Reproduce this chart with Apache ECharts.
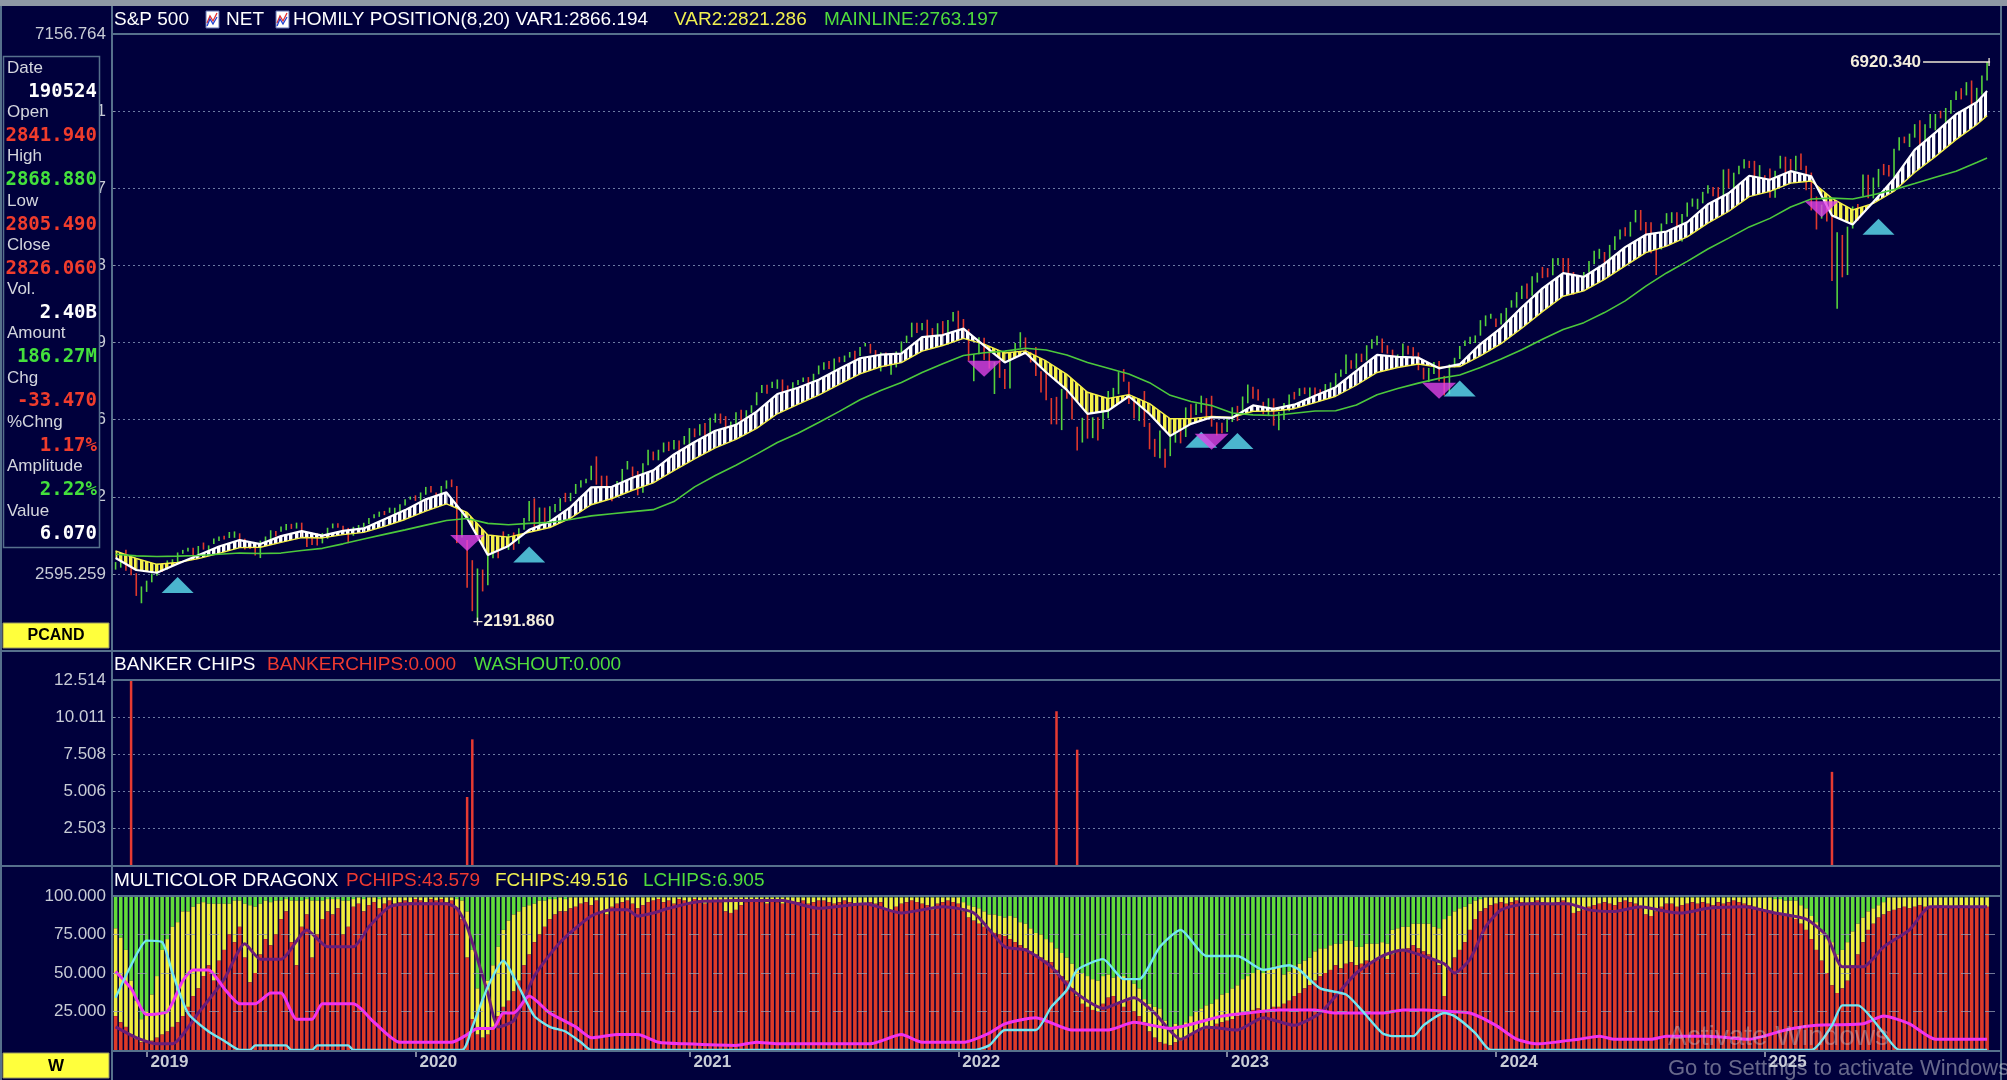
<!DOCTYPE html>
<html><head><meta charset="utf-8">
<script src="https://cdn.jsdelivr.net/npm/echarts@6/dist/echarts.min.js"></script>
<style>html,body{margin:0;padding:0;background:#00003c;overflow:hidden}#c{width:2007px;height:1080px}</style>
</head><body><div id="c"></div>
<script>
// ---------- DATA (weekly bars, index 0 = week of 2018-11-19) ----------
const closes=[2632,2760,2633,2600,2417,2486,2532,2596,2671,2665,
2707,2708,2776,2793,2804,2743,2822,2800,2834,2893,
2907,2905,2940,2946,2881,2860,2826,2752,2873,2887,
2950,2942,2990,3014,2977,3026,2932,2919,2889,2847,
2926,2979,3007,2992,2962,2952,2970,2986,3023,3067,
3093,3120,3110,3141,3146,3169,3221,3240,3235,3265,
3330,3295,3226,3328,3380,3338,2954,2972,2711,2305,
2541,2489,2790,2875,2837,2831,2930,2864,2955,3044,
3194,3041,3098,3009,3130,3185,3224,3216,3271,3351,
3373,3397,3508,3427,3341,3319,3298,3348,3477,3483,
3465,3270,3510,3585,3557,3638,3699,3663,3709,3703,
3756,3825,3768,3841,3714,3887,3934,3907,3811,3842,
3943,3913,3975,4020,4129,4185,4180,4181,4233,4174,
4156,4204,4230,4247,4166,4281,4352,4370,4327,4411,
4395,4437,4468,4442,4509,4535,4459,4433,4455,4357,
4391,4471,4545,4605,4697,4682,4698,4595,4538,4712,
4620,4725,4766,4677,4663,4398,4432,4500,4419,4349,
4385,4329,4204,4463,4543,4546,4488,4393,4272,4132,
4123,4024,3901,4158,4108,3901,3675,3912,3825,3899,
3863,3962,4130,4145,4280,4228,4058,3924,4067,3873,
3693,3586,3640,3583,3752,3901,3771,3993,3965,4026,
4072,3934,3852,3845,3840,3895,3999,3973,4071,4136,
4090,4079,3970,4046,3862,3917,3971,4109,4105,4138,
4133,4169,4136,4124,4192,4205,4282,4299,4410,4348,
4450,4399,4505,4536,4582,4478,4464,4370,4406,4515,
4457,4450,4320,4288,4309,4327,4224,4117,4358,4415,
4514,4559,4595,4604,4719,4755,4770,4697,4784,4840,
4891,4959,5027,5006,5089,5137,5124,5117,5234,5254,
5204,5123,4967,5100,5128,5223,5303,5305,5278,5347,
5432,5465,5460,5567,5615,5505,5459,5346,5344,5554,
5634,5648,5408,5626,5703,5738,5751,5815,5865,5808,
5728,5995,5870,5969,6032,6090,6051,5931,5971,5942,
5827,5997,6101,6041,6026,6115,6013,5955,5770,5639,
5668,5581,5074,5363,5283,5525,5687,5660,5958,5803,
5912,6000,5977,5968,6173,6279,6260,6297,6389,6238,
6389,6450,6467,6460,6482,6584,6664,6643,6716,6553,
6664,6792,6840];
const highs=[2695,2762,2800,2685,2601,2489,2538,2598,2681,2681,
2709,2718,2776,2798,2816,2816,2831,2860,2836,2894,
2911,2918,2949,2954,2938,2892,2868,2828,2876,2911,
2964,2958,2996,3017,3018,3028,3028,2945,2943,2939,
2940,2985,3021,3022,3002,2984,2993,3008,3027,3068,
3098,3121,3127,3155,3154,3183,3226,3248,3259,3283,
3330,3338,3283,3338,3385,3393,3338,3137,2882,2711,
2641,2632,2818,2880,2867,2954,2932,2945,2980,3068,
3212,3233,3156,3155,3166,3186,3234,3280,3280,3355,
3387,3399,3509,3588,3425,3425,3321,3380,3482,3549,
3502,3464,3529,3645,3629,3644,3705,3712,3726,3723,
3760,3827,3824,3860,3870,3915,3950,3950,3928,3882,
3960,3983,3978,4020,4130,4191,4194,4218,4238,4238,
4187,4214,4234,4255,4258,4286,4356,4384,4393,4416,
4429,4440,4470,4480,4513,4546,4539,4486,4466,4466,
4429,4475,4559,4608,4718,4718,4714,4743,4672,4713,
4731,4740,4808,4819,4749,4665,4453,4595,4590,4490,
4386,4402,4327,4465,4546,4637,4593,4471,4513,4308,
4308,4081,4091,4158,4204,4169,3838,3914,3950,3918,
3919,4013,4141,4167,4300,4325,4219,4062,4076,4140,
3871,3736,3807,3653,3762,3902,3911,4002,4029,4034,
4101,4080,4100,3876,3872,3906,4003,4015,4094,4195,
4176,4156,4049,4079,4078,3964,4040,4110,4133,4164,
4170,4171,4170,4155,4199,4213,4291,4322,4448,4400,
4458,4456,4527,4578,4607,4584,4527,4490,4449,4541,
4522,4511,4466,4338,4335,4385,4393,4268,4366,4421,
4521,4568,4598,4610,4739,4779,4793,4754,4798,4843,
4907,4976,5030,5048,5111,5140,5189,5179,5261,5264,
5264,5263,5146,5114,5146,5239,5325,5342,5315,5375,
5447,5505,5524,5570,5670,5670,5568,5566,5383,5556,
5643,5651,5651,5636,5733,5767,5765,5823,5878,5863,
5863,6012,6018,5985,6044,6099,6085,6085,6049,5964,
6021,6001,6128,6120,6101,6128,6147,6044,5986,5783,
5715,5787,5695,5481,5459,5529,5700,5720,5970,5968,
5944,6017,6059,6050,6187,6285,6290,6315,6395,6427,
6395,6481,6481,6508,6532,6600,6672,6699,6750,6764,
6702,6807,6920];
const lows=[2631,2648,2621,2583,2409,2347,2443,2524,2580,2612,
2631,2682,2681,2765,2784,2722,2741,2800,2788,2848,
2873,2886,2898,2900,2825,2801,2805,2750,2729,2859,
2883,2911,2952,2964,2975,2978,2914,2822,2840,2835,
2853,2891,2980,2985,2946,2855,2917,2952,2991,3016,
3066,3077,3092,3111,3070,3124,3173,3223,3212,3214,
3264,3283,3214,3234,3315,3328,2855,2902,2479,2280,
2192,2447,2500,2728,2727,2830,2798,2798,2850,2969,
3039,2984,2965,2999,3000,3115,3127,3201,3209,3271,
3325,3362,3387,3349,3329,3291,3209,3298,3343,3477,
3418,3259,3280,3512,3555,3555,3622,3633,3647,3636,
3688,3663,3750,3764,3694,3725,3873,3865,3789,3723,
3805,3885,3853,3955,4020,4124,4118,4165,4159,4057,
4062,4156,4191,4217,4165,4165,4281,4320,4327,4233,
4382,4385,4423,4367,4436,4517,4457,4428,4306,4346,
4278,4340,4460,4546,4595,4630,4654,4585,4495,4532,
4600,4531,4728,4662,4582,4396,4223,4451,4402,4330,
4115,4251,4157,4162,4424,4506,4450,4381,4268,4128,
4062,3859,3858,3810,4074,3900,3637,3705,3738,3742,
3722,3820,3911,4079,4113,4219,4030,3907,3886,3837,
3648,3584,3572,3492,3590,3704,3698,3752,3906,3938,
3956,3919,3839,3765,3784,3794,3878,3886,3950,4037,
4075,4061,3943,3928,3847,3808,3901,3970,4069,4099,
4114,4049,4048,4099,4109,4104,4166,4261,4284,4328,
4329,4385,4398,4497,4526,4463,4456,4366,4335,4414,
4448,4436,4316,4238,4216,4283,4223,4103,4113,4340,
4411,4521,4537,4546,4608,4688,4751,4682,4702,4714,
4845,4845,4918,4920,4946,5057,5094,5101,5118,5203,
5146,5114,4953,4969,5011,5142,5211,5257,5191,5234,
5331,5420,5447,5445,5565,5497,5390,5305,5120,5336,
5550,5560,5402,5404,5613,5698,5675,5726,5809,5786,
5705,5706,5853,5853,5972,6021,6024,5832,5929,5829,
5774,5773,6020,5923,5923,6003,6008,5837,5666,5505,
5597,5572,5069,4835,5101,5120,5513,5579,5786,5768,
5768,5861,5964,5952,5943,6172,6234,6202,6281,6212,
6254,6361,6343,6444,6360,6482,6600,6604,6638,6550,
6569,6644,6763];
// indicator lines read every 4 weeks
const ribbonWeeks=[0,4,8,12,16,20,24,28,32,36,40,44,48,52,56,60,64,68,72,76,80,84,88,92,96,100,104,108,112,116,120,124,128,132,136,140,144,148,152,156,160,164,168,172,176,180,184,188,192,196,200,204,208,212,216,220,224,228,232,236,240,244,248,252,256,260,264,268,272,276,280,284,288,292,296,300,304,308,312,316,320,324,328,332,336,340,344,348,352,356,360,362];
const var1=[2730,2628,2605,2680,2752,2826,2881,2847,2914,2956,
2918,2959,2979,3057,3134,3225,3284,3065,2755,2831,
2968,3036,3159,3326,3331,3408,3470,3604,3710,3805,
3854,3966,4115,4168,4236,4328,4417,4447,4456,4596,
4613,4667,4524,4382,4464,4299,4150,3947,3975,4096,
3946,3761,3863,3918,3914,4019,3989,4025,4100,4173,
4310,4445,4429,4422,4332,4367,4537,4674,4848,5007,
5136,5105,5216,5356,5461,5488,5566,5718,5811,5959,
5925,5998,5955,5624,5547,5738,5934,6178,6323,6479,
6581,6675];
const var2=[2790,2725,2676,2691,2724,2769,2817,2820,2861,2902,
2899,2927,2946,2997,3055,3126,3186,3114,2924,2906,
2947,2987,3066,3179,3232,3302,3364,3468,3566,3660,
3732,3825,3948,4028,4106,4196,4285,4345,4380,4477,
4525,4585,4537,4462,4479,4394,4281,4130,4077,4110,
4034,3906,3907,3926,3917,3969,3972,3991,4042,4096,
4189,4297,4339,4369,4340,4347,4438,4541,4671,4811,
4941,4986,5083,5198,5309,5365,5443,5559,5657,5783,
5827,5897,5915,5768,5670,5726,5828,5987,6121,6264,
6390,6467];
const mainline=[2761,2747,2742,2745,2751,2761,2771,2768,2771,2793,
2811,2849,2890,2929,2967,3007,3046,3063,3022,3010,
3022,3030,3054,3085,3103,3121,3138,3206,3330,3427,
3513,3607,3705,3783,3874,3968,4066,4145,4213,4296,
4370,4440,4464,4477,4501,4487,4445,4381,4333,4284,
4211,4104,4052,4017,3955,3939,3933,3953,3971,3973,
4022,4109,4161,4207,4247,4275,4338,4410,4489,4578,
4660,4718,4803,4902,5027,5138,5236,5340,5432,5527,
5599,5695,5763,5770,5763,5799,5842,5894,5947,5998,
6071,6109];
const buySignals=[[12,2502],[80,2758],[210,3728],[217,3719],[260,4161],[341,5528]];
const sellSignals=[[68,2857],[168,4328],[212,3711],[256,4142],[330,5676]];
const extremes=[[362,6920.34],[70,2191.86]];
const bankerChips=[[3,12.45],[68,4.6],[69,8.5],[182,10.4],[186,7.8],[332,6.3]];
const pchips=[22,18,15,10,7,5,5,6,8,10,
12,15,18,22,28,35,40,48,55,45,
58,65,75,70,80,60,44,50,62,72,
68,75,85,90,70,55,80,88,60,75,
85,90,88,92,75,80,93,95,90,94,
96,92,95,97,95,96,97,96,98,97,
96,98,97,98,96,97,92,85,60,20,
10,8,10,15,22,28,32,38,45,55,
62,70,75,80,85,88,90,90,92,93,
95,96,94,97,90,88,93,95,96,97,
95,92,94,96,97,98,96,97,95,98,
97,96,98,97,95,96,97,96,90,89,
91,94,96,97,97,96,95,97,96,95,
97,96,96,97,95,96,97,97,96,95,
96,97,96,95,94,95,96,95,96,91,
90,93,95,96,97,96,95,94,91,95,
96,97,96,95,90,86,84,82,80,78,
76,75,74,72,70,68,66,64,62,60,
58,57,52,48,45,40,35,30,28,26,
25,30,34,35,30,28,32,25,22,18,
12,8,5,4,3,5,6,8,10,12,
13,14,15,17,18,19,20,22,24,25,
26,27,25,26,28,28,30,32,35,37,
40,42,45,48,50,52,55,53,56,57,
55,56,58,57,58,60,59,62,65,64,
66,68,66,64,62,58,55,35,52,60,
65,70,78,85,90,92,94,95,96,95,
96,97,96,95,96,97,96,95,94,96,
97,95,89,90,91,93,94,95,96,95,
94,96,97,96,95,92,88,87,90,93,
95,95,93,94,95,96,95,96,95,94,
96,95,96,97,96,95,94,93,92,91,
90,89,88,87,86,85,82,78,72,65,
58,50,42,37,40,45,55,62,70,78,
82,86,88,90,91,92,93,92,93,94,
93,92,93,94,93,92,93,94,93,92,
93,92,93];
const fchips=[57,55,50,35,25,15,20,30,40,55,
60,65,65,68,62,58,55,48,40,50,
37,30,20,27,17,35,50,43,33,25,
28,22,12,8,27,42,17,10,37,22,
12,8,10,6,22,17,5,4,8,5,
3,6,4,2,4,3,2,3,1,2,
3,1,2,1,3,2,6,12,30,45,
30,25,35,40,45,50,52,50,45,38,
32,25,22,17,13,10,9,8,7,6,
4,3,5,2,9,11,6,4,3,2,
4,7,5,3,2,1,3,2,4,1,
2,3,1,2,4,3,2,3,9,10,
8,5,3,2,2,3,4,2,3,4,
2,3,3,2,4,3,2,2,3,4,
3,2,3,4,5,4,3,4,3,8,
9,6,4,3,2,3,4,5,8,4,
3,2,3,4,6,8,9,10,10,10,
12,12,12,15,16,15,16,15,14,15,
14,13,14,15,15,16,18,20,20,20,
20,18,15,12,18,20,15,18,18,15,
18,20,22,15,10,12,10,10,12,13,
14,15,15,16,18,18,20,20,22,23,
24,25,25,26,26,27,19,19,20,19,
18,18,19,18,16,16,14,16,15,14,
12,11,11,12,11,10,10,16,14,16,
14,14,16,18,20,22,24,50,35,30,
27,23,17,12,8,7,5,4,3,4,
3,2,3,4,3,2,3,4,5,3,
2,4,10,9,8,6,5,4,3,4,
5,3,2,3,4,7,11,12,9,6,
4,4,6,5,4,3,4,3,4,5,
3,4,3,2,3,4,5,6,7,8,
9,9,10,10,11,12,12,14,15,18,
20,22,28,25,25,25,22,20,16,12,
10,8,8,9,8,7,6,7,6,5,
6,7,6,5,6,7,6,5,6,7,
6,7,6];
const cyanLine=[[0,34],[3,55],[6,71],[9,70],[11,50],[14,24],[18,12],[21,6],[24,0],[26,0],[27,3],[33,3],[34,0],[38,0],[39,3],[45,3],[46,0],[67,0],[69,15],[72,41],[75,58],[78,41],[81,22],[84,15],[87,12],[90,5],[92,0],[166,0],[169,3],[172,13],[178,13],[181,28],[184,39],[186,52],[191,59],[195,46],[198,46],[202,67],[206,78],[211,61],[217,61],[222,52],[227,55],[229,52],[233,40],[238,36],[241,26],[245,11],[247,9],[251,9],[253,16],[257,24],[259,22],[263,11],[266,0],[328,0],[332,16],[334,29],[337,29],[342,11],[345,0],[362,0]];
const magentaLine=[[0,51],[3,40],[6,23],[10,25],[13,45],[15,52],[18,52],[21,40],[24,30],[27,30],[30,37],[32,37],[35,20],[38,20],[40,30],[46,30],[50,18],[55,5],[65,5],[68,10],[70,14],[73,14],[75,24],[77,24],[80,35],[84,24],[89,15],[92,8],[97,10],[101,10],[105,5],[110,4],[120,3],[124,5],[128,4],[146,4],[152,10],[156,5],[164,5],[169,11],[172,17],[178,21],[185,13],[192,13],[197,18],[204,14],[214,22],[219,24],[225,26],[232,26],[236,24],[245,24],[249,26],[253,26],[258,25],[262,24],[267,16],[271,7],[275,4],[283,7],[287,9],[290,7],[297,7],[300,9],[308,9],[316,7],[323,13],[329,16],[338,17],[342,22],[347,17],[352,7],[362,7]];
const purpleLine=[[0,15],[4,8],[8,4],[11,4],[16,24],[21,46],[25,69],[28,59],[32,59],[37,78],[41,67],[46,67],[49,80],[53,93],[57,95],[64,95],[66,92],[68,80],[72,37],[74,15],[77,19],[81,48],[86,70],[92,87],[96,91],[99,91],[101,87],[104,89],[107,92],[112,96],[120,97],[129,97],[136,92],[145,95],[152,89],[160,93],[166,89],[172,67],[176,65],[181,54],[185,39],[191,27],[197,34],[201,24],[206,7],[211,15],[217,13],[222,21],[228,16],[233,24],[236,35],[240,50],[245,61],[249,65],[253,61],[257,56],[259,50],[262,59],[265,80],[268,91],[273,95],[281,95],[285,91],[290,90],[295,93],[300,90],[303,89],[308,92],[315,93],[321,89],[327,85],[331,74],[334,54],[338,54],[342,67],[347,78],[351,93],[362,93]];
const yearTicks=[6,58,111,163,215,267,319];
const yearLabels=['2019','2020','2021','2022','2023','2024','2025'];
const priceTicks=[2595.259,3246.902,3898.546,4550.189,5201.833,5853.477,6505.121,7156.764];
const bankerTicks=[2.503,5.006,7.508,10.011,12.514];
const dragonTicks=[25,50,75,100];
const infoLabels=['Date','Open','High','Low','Close','Vol.','Amount','Chg','%Chng','Amplitude','Value'];
const infoValues=['190524','2841.940','2868.880','2805.490','2826.060','2.40B','186.27M','-33.470','1.17%','2.22%','6.070'];

// ---------- STYLE ----------
const BG='#00003c', FRAME='#56708c', TXT='#c8ccd6';
const FONT="'Liberation Sans', Arial, sans-serif";
const RED='#e0382c', GRN='#55d23c', WHITE='#ffffff';
const infoColors=['#ffffff','#f03c2c','#44e03c','#f03c2c','#f03c2c','#ffffff','#44e03c','#f03c2c','#f03c2c','#44e03c','#ffffff'];

function stripePattern(color){
  const c=document.createElement('canvas'); c.width=31; c.height=4;
  const g=c.getContext('2d'); g.fillStyle=BG; g.fillRect(0,0,31,4); g.fillStyle=color;
  [0,5,10,16,21,26].forEach(x=>g.fillRect(x,0,3.4,4));
  return c;
}
const patW=stripePattern('#ffffff'), patY=stripePattern('#f4f048');

const spikeRows=closes.map((c,i)=>[i,highs[i],lows[i],(i===0||c>=closes[i-1])?1:0]);
const ribbonRows=ribbonWeeks.slice(0,-1).map((w,k)=>[w,var1[k],var2[k],ribbonWeeks[k+1],var1[k+1],var2[k+1]]);
const pairs=(xs,ys)=>xs.map((x,k)=>[x,ys[k]]);
const chipRows=pchips.map((p,i)=>[i,p,fchips[i]]);

function renderSpike(params,api){
  const i=api.value(0), h=api.value(1), l=api.value(2), up=api.value(3);
  const a=api.coord([i,h]), b=api.coord([i,l]);
  return {type:'line',shape:{x1:a[0],y1:a[1],x2:b[0],y2:b[1]},style:{stroke:up?GRN:RED,lineWidth:1.6}};
}
function renderRibbon(params,api){
  const w0=api.value(0),a1=api.value(1),a2=api.value(2),w1=api.value(3),b1=api.value(4),b2=api.value(5);
  const A1=api.coord([w0,a1]),A2=api.coord([w0,a2]),B1=api.coord([w1,b1]),B2=api.coord([w1,b2]);
  const d0=a1-a2,d1=b1-b2;
  const poly=(pts,up)=>({type:'polygon',shape:{points:pts},style:{fill:{image:up?patW:patY,repeat:'repeat'}}});
  const ch=[];
  if((d0>=0)===(d1>=0)){ch.push(poly([A1,B1,B2,A2],d0+d1>=0));}
  else{const t=d0/(d0-d1);const X=[A1[0]+t*(B1[0]-A1[0]),A1[1]+t*(B1[1]-A1[1])];
    ch.push(poly([A1,X,A2],d0>=0));ch.push(poly([X,B1,B2],d1>=0));}
  return {type:'group',children:ch};
}
function renderExtreme(params,api){
  const p=api.coord([api.value(0),api.value(1)]), txt=api.value(1).toFixed(3);
  const st={stroke:'#efe8d6',lineWidth:1.3};
  const ts={fill:'#f4eedc',font:"bold 17px "+FONT,verticalAlign:'middle',textVerticalAlign:'middle'};
  if(params.dataIndex===0){
    return {type:'group',children:[
      {type:'line',shape:{x1:p[0]-64,y1:p[1],x2:p[0]+3,y2:p[1]},style:st},
      {type:'line',shape:{x1:p[0]+2,y1:p[1]-4,x2:p[0]+2,y2:p[1]+4},style:st},
      {type:'text',x:p[0]-66,y:p[1],style:Object.assign({text:txt,align:'right',textAlign:'right'},ts)}]};
  }
  return {type:'group',children:[
    {type:'line',shape:{x1:p[0]-4,y1:p[1],x2:p[0]+5,y2:p[1]},style:st},
    {type:'line',shape:{x1:p[0],y1:p[1]-4,x2:p[0],y2:p[1]+4},style:st},
    {type:'text',x:p[0]+6,y:p[1],style:Object.assign({text:txt,align:'left',textAlign:'left'},ts)}]};
}
function renderChips(params,api){
  const i=api.value(0),p=api.value(1),f=api.value(2);
  const c0=api.coord([i,0]),cp=api.coord([i,p]),cf=api.coord([i,p+f]),ct=api.coord([i,100]);
  const w=3.6,x=c0[0]-w/2;
  return {type:'group',children:[
    {type:'rect',shape:{x,y:ct[1],width:w,height:cf[1]-ct[1]},style:{fill:'#62dc3a'}},
    {type:'rect',shape:{x,y:cf[1],width:w,height:cp[1]-cf[1]},style:{fill:'#f0ee3c'}},
    {type:'rect',shape:{x,y:cp[1],width:w,height:c0[1]-cp[1]},style:{fill:'#de3a28'}}]};
}

// ---------- GRAPHIC (frames, titles, info panel) ----------
const G=[];
const L=(x1,y1,x2,y2,c,w)=>G.push({type:'line',z:100,shape:{x1,y1,x2,y2},style:{stroke:c||FRAME,lineWidth:w||2}});
const T=(text,x,y,color,font,align)=>G.push({type:'text',z:101,x,y,style:{text,fill:color,font,align:align||'left',textAlign:align||'left',verticalAlign:'middle',textVerticalAlign:'middle'}});
G.push({type:'rect',z:100,shape:{x:0,y:0,width:2007,height:6},style:{fill:'#8e98a4'}});
L(1,6,1,1080); L(112,6,112,1080); L(2001,6,2001,1080);
L(112,34,2001,34); L(0,651,2001,651); L(112,680,2001,680);
L(0,866,2001,866); L(112,896,2001,896); L(112,1051,2001,1051);
G.push({type:'rect',z:100,shape:{x:3.5,y:56.5,width:96,height:491},style:{fill:BG,stroke:FRAME,lineWidth:1.5}});
infoLabels.forEach((t,k)=>{
  T(t,7,68+k*44.3,'#d4d6de',"17px "+FONT);
  T(infoValues[k],97,92+k*44.2,infoColors[k],"bold 19px 'DejaVu Sans Mono', monospace",'right');
});
G.push({type:'rect',z:100,shape:{x:3,y:623,width:106,height:25},style:{fill:'#ffff3c',stroke:'#9a9a60',lineWidth:1}});
T('PCAND',56,636,'#000000',"bold 16px "+FONT,'center');
G.push({type:'rect',z:100,shape:{x:3,y:1053,width:106,height:25},style:{fill:'#ffff3c',stroke:'#9a9a60',lineWidth:1}});
T('W',56,1066,'#000000',"bold 17px "+FONT,'center');
const F19="19px "+FONT;
T('S&P 500',114,20,WHITE,F19);
[205,275].forEach(x=>{
  G.push({type:'rect',z:100,shape:{x:x+1,y:11,width:13,height:17},style:{fill:'#ffffff',stroke:'#6070b0',lineWidth:1}});
  G.push({type:'polyline',z:101,shape:{points:[[x+2,23],[x+5,16],[x+8,21],[x+12,13]]},style:{stroke:'#e03030',lineWidth:1.3,fill:null}});
  G.push({type:'polyline',z:101,shape:{points:[[x+2,26],[x+5,19],[x+8,24],[x+12,17]]},style:{stroke:'#2040d0',lineWidth:1.3,fill:null}});
});
T('NET',226,20,WHITE,F19);
T('HOMILY POSITION(8,20) VAR1:2866.194',293,20,WHITE,F19);
T('VAR2:2821.286',674,20,'#f0f050',F19);
T('MAINLINE:2763.197',824,20,'#50dc3c',F19);
T('BANKER CHIPS',114,665,WHITE,F19);
T('BANKERCHIPS:0.000',267,665,'#ee3a30',F19);
T('WASHOUT:0.000',474,665,'#50dc3c',F19);
T('MULTICOLOR DRAGONX',114,881,WHITE,F19);
T('PCHIPS:43.579',346,881,'#ee3a30',F19);
T('FCHIPS:49.516',495,881,'#f0f050',F19);
T('LCHIPS:6.905',643,881,'#50dc3c',F19);
G.push({type:'text',z:102,x:1668,y:1037,style:{text:'Activate Windows',fill:'rgba(205,208,218,0.38)',font:"28px "+FONT,align:'left',textAlign:'left',verticalAlign:'middle',textVerticalAlign:'middle'}});
G.push({type:'text',z:102,x:1668,y:1069,style:{text:'Go to Settings to activate Windows',fill:'rgba(205,208,218,0.5)',font:"22px "+FONT,align:'left',textAlign:'left',verticalAlign:'middle',textVerticalAlign:'middle'}});

// ---------- CHART ----------
const chart=echarts.init(document.getElementById('c'),null,{renderer:'canvas',width:2007,height:1080});
const xBase={type:'value',min:-0.5,max:364.5,axisLine:{show:false},axisTick:{show:false},axisLabel:{show:false},splitLine:{show:false}};
const yLab={color:TXT,fontSize:17,fontFamily:FONT,margin:7,formatter:v=>Number(v).toFixed(3)};
const yTick={show:true,length:4,lineStyle:{color:'#8a96aa'}};
const dotted={show:true,lineStyle:{color:'#6c7aa2',type:[2,3],width:1}};
chart.setOption({
  animation:false,
  backgroundColor:BG,
  grid:[
    {left:113,top:34,width:1887,height:617},
    {left:113,top:680,width:1887,height:185},
    {left:113,top:896,width:1887,height:154}
  ],
  xAxis:[
    Object.assign({},xBase,{gridIndex:0}),
    Object.assign({},xBase,{gridIndex:1}),
    Object.assign({},xBase,{gridIndex:2,
      axisTick:{show:true,customValues:yearTicks,length:7,lineStyle:{color:'#a8b0c0',width:1.5}},
      axisLabel:{show:true,customValues:yearTicks,formatter:v=>yearLabels[yearTicks.indexOf(v)]||'',color:TXT,fontSize:17,fontWeight:'bold',fontFamily:FONT,align:'left',margin:4,padding:[0,0,0,4]}})
  ],
  yAxis:[
    {gridIndex:0,type:'value',min:1943.615,max:7156.764,axisLine:{show:false},
     axisTick:Object.assign({customValues:priceTicks},yTick),
     axisLabel:Object.assign({customValues:priceTicks},yLab),splitLine:dotted},
    {gridIndex:1,type:'value',min:0,max:12.514,axisLine:{show:false},
     axisTick:Object.assign({customValues:bankerTicks},yTick),
     axisLabel:Object.assign({customValues:bankerTicks},yLab),splitLine:dotted},
    {gridIndex:2,type:'value',min:0,max:100,axisLine:{show:false},
     axisTick:Object.assign({customValues:dragonTicks},yTick),
     axisLabel:Object.assign({customValues:dragonTicks},yLab),splitLine:{show:false}}
  ],
  series:[
    {type:'custom',name:'bars',xAxisIndex:0,yAxisIndex:0,data:spikeRows,renderItem:renderSpike,z:2,silent:true,clip:true},
    {type:'custom',name:'ribbon',xAxisIndex:0,yAxisIndex:0,data:ribbonRows,renderItem:renderRibbon,z:3,silent:true,clip:true},
    {type:'line',name:'VAR2',xAxisIndex:0,yAxisIndex:0,data:pairs(ribbonWeeks,var2),showSymbol:false,lineStyle:{color:'#f4f048',width:1.4},z:4,silent:true},
    {type:'line',name:'VAR1',xAxisIndex:0,yAxisIndex:0,data:pairs(ribbonWeeks,var1),showSymbol:false,lineStyle:{color:WHITE,width:2.2},z:5,silent:true},
    {type:'line',name:'MAINLINE',xAxisIndex:0,yAxisIndex:0,data:pairs(ribbonWeeks,mainline),showSymbol:false,lineStyle:{color:'#4cc83c',width:1.6},z:5,silent:true},
    {type:'scatter',name:'buy',xAxisIndex:0,yAxisIndex:0,data:buySignals,symbol:'triangle',symbolSize:[32,16],itemStyle:{color:'#5ee2f2'},z:6,silent:true},
    {type:'scatter',name:'sell',xAxisIndex:0,yAxisIndex:0,data:sellSignals,symbol:'triangle',symbolRotate:180,symbolSize:[34,16],itemStyle:{color:'#e044e6'},z:6,silent:true},
    {type:'custom',name:'extremes',xAxisIndex:0,yAxisIndex:0,data:extremes,renderItem:renderExtreme,z:7,silent:true,clip:false},
    {type:'bar',name:'BANKERCHIPS',xAxisIndex:1,yAxisIndex:1,data:bankerChips,barWidth:2.5,itemStyle:{color:'#e63a32'},silent:true},
    {type:'custom',name:'chips',xAxisIndex:2,yAxisIndex:2,data:chipRows,renderItem:renderChips,z:2,silent:true,clip:true},
    {type:'line',name:'purple',xAxisIndex:2,yAxisIndex:2,data:purpleLine,showSymbol:false,smooth:0.2,lineStyle:{color:'#6a1c78',width:3},z:4,silent:true},
    {type:'line',name:'magenta',xAxisIndex:2,yAxisIndex:2,data:magentaLine,showSymbol:false,smooth:0.2,lineStyle:{color:'#f032f0',width:3},z:4,silent:true},
    {type:'line',name:'cyan',xAxisIndex:2,yAxisIndex:2,data:cyanLine,showSymbol:false,smooth:0.2,lineStyle:{color:'#72e8f2',width:2.4},z:5,silent:true,
     markLine:{silent:true,symbol:['none','none'],label:{show:false},lineStyle:{color:'rgba(150,158,178,0.75)',type:[10,14],width:1},data:[{yAxis:25},{yAxis:50},{yAxis:75}]}}
  ],
  graphic:{elements:G}
});
</script></body></html>
